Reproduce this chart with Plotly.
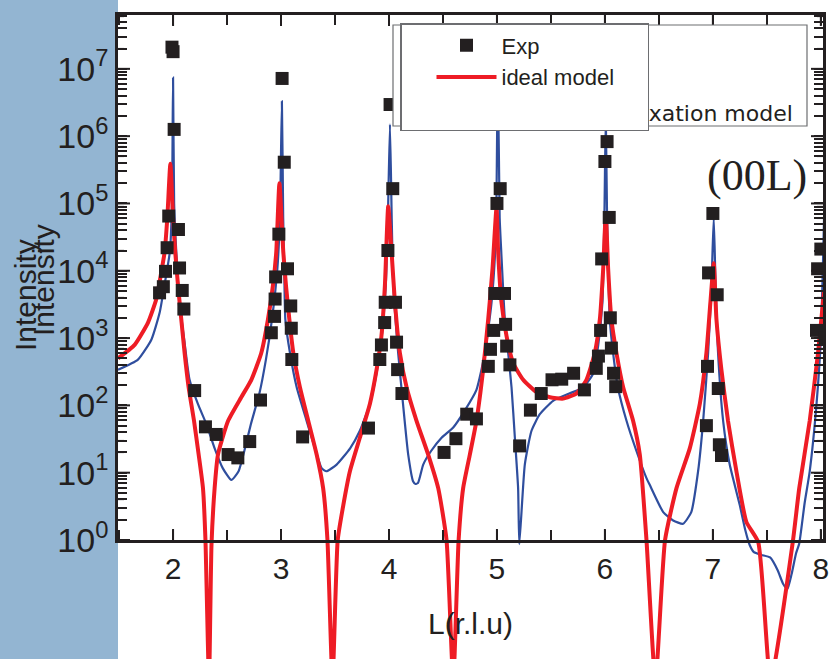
import plotly.graph_objects as go

# ---------------- data ----------------
# Experimental points: L (r.l.u.) and intensity
EXP_L = [1.875, 1.91, 1.93, 1.945, 1.96, 1.99, 2.00, 2.01, 2.05, 2.06, 2.085, 2.10,
         2.20, 2.30, 2.40, 2.51, 2.60, 2.71, 2.81,
         2.91, 2.94, 2.945, 2.95, 2.98, 3.01, 3.03, 3.06, 3.09, 3.095, 3.10, 3.20,
         3.81, 3.915, 3.93, 3.96, 3.965, 3.99, 4.01, 4.035, 4.06, 4.07, 4.08, 4.12,
         4.51, 4.62, 4.72, 4.81,
         4.92, 4.94, 4.97, 4.98, 5.00, 5.03, 5.07, 5.08, 5.09, 5.12,
         5.21, 5.31, 5.41, 5.51, 5.60, 5.71, 5.81,
         5.92, 5.94, 5.96, 5.97, 6.00, 6.02, 6.04, 6.05, 6.06, 6.08, 6.10,
         6.94, 6.95, 6.96, 7.00, 7.04, 7.05, 7.06, 7.08,
         7.96, 7.97, 8.00, 8.04]
EXP_I = [4700, 5800, 9800, 22000, 65000, 2.1e7, 1.8e7, 1.26e6, 41000, 11000, 5100, 2700,
         166, 48, 37, 18.6, 16.6, 29, 120,
         1200, 2100, 3800, 8100, 35000, 7.2e6, 4.1e5, 10700, 3000, 1400, 480, 34,
         46, 480, 790, 1700, 3400, 20000, 2.95e6, 1.66e5, 3400, 870, 340, 150,
         20, 32, 74, 63,
         380, 680, 1300, 4600, 1.0e5, 1.66e5, 4600, 1600, 760, 400,
         25, 85, 150, 240, 245, 300, 170,
         355, 540, 1300, 15000, 4.2e5, 8.3e5, 62000, 2000, 710, 300, 190,
         50, 380, 9300, 71000, 4400, 178, 26, 18,
         1300, 10700, 21000, 1000]

# Relaxation model (blue curve)
RELAX_L = [1.49, 1.675, 1.80, 1.876, 1.92, 1.97, 1.99, 2.00, 2.01, 2.03, 2.06, 2.107,
           2.153, 2.23, 2.31, 2.385, 2.46, 2.54, 2.607, 2.66, 2.72, 2.80, 2.86, 2.916,
           2.966, 2.99, 3.008, 3.02, 3.03, 3.04, 3.083, 3.145, 3.237, 3.314, 3.376,
           3.42, 3.515, 3.64, 3.73, 3.823, 3.885, 3.93, 3.97, 3.99, 4.009, 4.025,
           4.04, 4.085, 4.13, 4.178, 4.224, 4.245, 4.27, 4.317, 4.39, 4.487, 4.595,
           4.70, 4.81, 4.888, 4.95, 4.99, 5.008, 5.025, 5.04, 5.073, 5.104, 5.135,
           5.166, 5.196, 5.207, 5.258, 5.32, 5.397, 5.52, 5.675, 5.80, 5.89, 5.937,
           5.977, 5.995, 6.008, 6.02, 6.045, 6.076, 6.12, 6.20, 6.292, 6.385, 6.415,
           6.54, 6.632, 6.724, 6.80, 6.863, 6.91, 6.956, 6.987, 7.008, 7.025, 7.048,
           7.095, 7.156, 7.249, 7.30, 7.34, 7.38, 7.45, 7.53, 7.60, 7.65, 7.69, 7.73,
           7.77, 7.80, 7.85, 7.897, 7.96, 8.00, 8.03]
RELAX_I = [339, 479, 955, 2400, 6030, 19000, 1.0e5, 7.4e6, 1.0e5, 19000, 3390, 851,
           240, 105, 52, 23, 11.7, 7.8, 10.5, 21, 52, 151, 479, 1900,
           10700, 63000, 3.3e6, 63000, 10000, 1900, 600, 186, 59, 23, 11.7,
           10.5, 13.2, 23, 42, 105, 302, 955, 6030, 63000, 1.5e6, 63000,
           6030, 600, 105, 18.6, 7.4, 6.8, 7.1, 13.2, 21, 33, 47,
           83, 170, 600, 3390, 34000, 1.0e7, 63000, 19000, 1900, 600, 186,
           33, 5.9, 0.87, 13.2, 42, 74, 117, 151, 186, 295, 759,
           3390, 62000, 2.0e6, 63000, 1900, 600, 186, 59, 21, 8.3, 6.6,
           2.6, 1.95, 1.74, 2.6, 10.5, 59, 600, 6030, 62000, 6030, 600,
           59, 13.2, 3.3, 1.41, 0.85, 0.66, 0.60, 0.55, 0.355, 0.224, 0.186, 0.316,
           0.63, 0.89, 3.55, 10.5, 105, 1000, 63000]

# Ideal model (red curve)
IDEAL_L = [1.49, 1.644, 1.768, 1.845, 1.891, 1.922, 1.947, 1.975, 2.00, 2.02, 2.046,
           2.076, 2.107, 2.144, 2.194, 2.237, 2.277, 2.30, 2.333, 2.356, 2.385, 2.416,
           2.51, 2.632, 2.725, 2.817, 2.879, 2.925, 2.956, 2.985, 3.021, 3.046, 3.077,
           3.114, 3.175, 3.252, 3.33, 3.39, 3.43, 3.477, 3.525, 3.577, 3.638, 3.73,
           3.823, 3.885, 3.93, 3.962, 3.993, 4.024, 4.055, 4.101, 4.163, 4.255, 4.363,
           4.456, 4.533, 4.595, 4.645, 4.687, 4.749, 4.81, 4.872, 4.919, 4.959, 4.996,
           5.011, 5.042, 5.089, 5.15, 5.243, 5.366, 5.49, 5.613, 5.737, 5.829, 5.906,
           5.953, 5.984, 6.008, 6.03, 6.06, 6.107, 6.169, 6.261, 6.323, 6.385, 6.468,
           6.557, 6.663, 6.786, 6.879, 6.94, 6.977, 7.008, 7.033, 7.079, 7.14, 7.218,
           7.31, 7.42, 7.535, 7.74, 7.80, 7.897, 7.974, 8.03]
IDEAL_I = [501, 794, 1700, 3800, 9550, 19000, 62000, 3.9e5, 62000, 19000, 6030,
           1900, 600, 186, 59, 18.6, 5.9, 1.0, 0.0079, 0.85, 5.9, 18.6,
           59, 132, 240, 600, 1900, 6030, 19000, 2.0e5, 19000, 6030, 1900,
           600, 186, 59, 18.6, 5.9, 1.0, 0.0079, 1.0, 3.3, 10.5, 33,
           105, 339, 1070, 6030, 91000, 19000, 3390, 600, 186, 59, 18.6,
           5.9, 1.0, 0.0079, 1.0, 5.9, 18.6, 59, 339, 1900, 10700, 87000,
           19000, 3390, 1070, 427, 240, 158, 132, 126, 151, 240, 600,
           1900, 10700, 69000, 10700, 1900, 600, 186, 59, 18.6, 1.0, 0.0079,
           1.0, 5.9, 23, 105, 600, 3390, 12900, 1900, 339, 59, 10.5,
           1.86, 0.93, 0.0079, 0.93, 5.9, 59, 600, 5000]

X_TICKS = [2, 3, 4, 5, 6, 7, 8]
X_TICKTEXT = ["2", "3", "4", "5", "6", "7", "8"]
Y_TICKVALS = [1, 10, 100, 1e3, 1e4, 1e5, 1e6, 1e7]
Y_TICKTEXT = ["10<sup>0</sup>", "10<sup>1</sup>", "10<sup>2</sup>", "10<sup>3</sup>",
              "10<sup>4</sup>", "10<sup>5</sup>", "10<sup>6</sup>", "10<sup>7</sup>"]

# ---------------- styling ----------------
W, H = 829, 659
INK = "#231F20"
BLUE = "#2F4E9E"
RED = "#EE1C25"
PANEL = "#93B5D2"
SANS = "Liberation Sans, Arial, sans-serif"

def px_x(p):
    return p / W

def px_y(p):
    return (H - p) / H

X_RANGE = [1.49, 8.02]
XDOM = [px_x(118), px_x(823)]
YDOM_FRAME = [px_y(540), px_y(15)]
YDOM_FULL = [0, px_y(15)]
Y_TOP = 7.80
Y_BOTTOM_FULL = 0 - (H - 540) / ((540 - 15) / Y_TOP)

# tick positions: labelled major ticks plus unlabelled half-step / 2..9 ticks
x_tick_pos, x_tick_lab = [], []
for i, v in enumerate(X_TICKS):
    x_tick_pos += [v - 0.5, v]
    x_tick_lab += ["", X_TICKTEXT[i]]
y_tick_pos, y_tick_lab = [], []
for i, v in enumerate(Y_TICKVALS):
    y_tick_pos.append(v)
    y_tick_lab.append(Y_TICKTEXT[i])
    for m in range(2, 10):
        if v * m <= 10 ** Y_TOP:
            y_tick_pos.append(v * m)
            y_tick_lab.append("")

fig = go.Figure()

# model curves on a full-height (unframed) subplot so they run past the bottom axis
fig.add_trace(go.Scatter(x=RELAX_L, y=RELAX_I, xaxis="x", yaxis="y", mode="lines",
                         line=dict(color=BLUE, width=2.2, shape="spline", smoothing=0.5),
                         name="relaxation model", legend="legend"))
fig.add_trace(go.Scatter(x=IDEAL_L, y=IDEAL_I, xaxis="x", yaxis="y", mode="lines",
                         line=dict(color=RED, width=4, shape="spline", smoothing=0.5),
                         name="ideal model", legend="legend2", legendrank=2))
# experimental points on the framed subplot (drawn above the curves)
fig.add_trace(go.Scatter(x=EXP_L, y=EXP_I, xaxis="x2", yaxis="y2", mode="markers",
                         marker=dict(symbol="square", size=13, color=INK),
                         name="Exp", legend="legend2", legendrank=1, cliponaxis=True))
# blank third row of the front legend box (also sets the box width)
fig.add_trace(go.Scatter(x=[None], y=[None], xaxis="x2", yaxis="y2", mode="lines",
                         line=dict(color="rgba(0,0,0,0)"), name="\u00a0" * 23,
                         legend="legend2", legendrank=3, hoverinfo="skip"))

tickfont_x = dict(family=SANS, size=30, color=INK)
tickfont_y = dict(family=SANS, size=34, color=INK)

fig.update_layout(
    template="none",
    width=W, height=H,
    margin=dict(l=0, r=0, t=0, b=0, autoexpand=False),
    paper_bgcolor="white", plot_bgcolor="rgba(0,0,0,0)",
    xaxis=dict(domain=XDOM, range=X_RANGE, anchor="y", visible=False, automargin=False),
    yaxis=dict(domain=YDOM_FULL, type="log", range=[Y_BOTTOM_FULL, Y_TOP], anchor="x",
               visible=False, automargin=False),
    xaxis2=dict(domain=XDOM, range=X_RANGE, anchor="y2", automargin=False,
                tickmode="array", tickvals=x_tick_pos, ticktext=x_tick_lab,
                ticks="inside", ticklen=10, tickwidth=2, tickcolor=INK,
                showline=True, linewidth=2.5, linecolor=INK, mirror="ticks",
                ticklabeloverflow="allow",
                showgrid=False, zeroline=False, tickfont=tickfont_x),
    yaxis2=dict(domain=YDOM_FRAME, type="log", range=[0, Y_TOP], anchor="x2", automargin=False,
                tickmode="array", tickvals=y_tick_pos, ticktext=y_tick_lab,
                ticks="inside", ticklen=9, tickwidth=1.6, tickcolor=INK,
                showline=True, linewidth=2.5, linecolor=INK, mirror="ticks",
                showgrid=False, zeroline=False, tickfont=tickfont_y),
    legend=dict(x=px_x(798), xanchor="right", y=px_y(134), yanchor="bottom",
                bgcolor="rgba(0,0,0,0)", borderwidth=0,
                font=dict(family="DejaVu Sans, sans-serif", size=22, color=INK)),
    legend2=dict(x=px_x(400), xanchor="left", y=px_y(23), yanchor="top",
                 bgcolor="white", bordercolor="#6D6E71", borderwidth=1.5,
                 font=dict(family=SANS, size=22, color=INK),
                 indentation=30, itemwidth=60),
    showlegend=True,
)

# tick marks on all four sides of the frame, placed through the axes' own scales
for v, lab in zip(x_tick_pos, x_tick_lab):
    ln, wd = (11, 2) if lab else (7, 1.5)
    for anchor_px, sgn in ((540, 1), (15, -1)):
        fig.add_shape(type="line", xref="x2", x0=v, x1=v,
                      yref="paper", ysizemode="pixel", yanchor=px_y(anchor_px),
                      y0=0, y1=sgn * ln, line=dict(color=INK, width=wd), layer="above")
for v, lab in zip(y_tick_pos, y_tick_lab):
    ln, wd = (12, 2) if lab else (6, 1.3)
    for anchor_px, sgn in ((118, 1), (823, -1)):
        fig.add_shape(type="line", yref="y2", y0=v, y1=v,
                      xref="paper", xsizemode="pixel", xanchor=px_x(anchor_px),
                      x0=0, x1=sgn * ln, line=dict(color=INK, width=wd), layer="above")

# blue side panel and the back legend box
fig.add_shape(type="rect", xref="paper", yref="paper", x0=0, x1=px_x(118), y0=0, y1=1,
              fillcolor=PANEL, line=dict(width=0), layer="below")
fig.add_shape(type="rect", xref="paper", yref="paper", x0=px_x(393), x1=px_x(807),
              y0=px_y(126), y1=px_y(25), fillcolor="white",
              line=dict(color="#6D6E71", width=1.2), layer="above")

ann_font = dict(family=SANS, size=30, color=INK)
fig.add_annotation(text="Intensity", xref="paper", yref="paper", x=px_x(26), y=px_y(295),
                   textangle=-90, showarrow=False, font=ann_font, xanchor="center", yanchor="middle")
fig.add_annotation(text="Intensity", xref="paper", yref="paper", x=px_x(43), y=px_y(280),
                   textangle=-90, showarrow=False, font=ann_font, xanchor="center", yanchor="middle")
fig.add_annotation(text="L(r.l.u)", xref="paper", yref="paper", x=px_x(470), y=px_y(623),
                   showarrow=False, font=ann_font, xanchor="center", yanchor="middle")
fig.add_annotation(text="(00L)", xref="paper", yref="paper", x=px_x(757), y=px_y(175),
                   showarrow=False, font=dict(family="Liberation Serif, Times New Roman, serif",
                                              size=44, color=INK),
                   xanchor="center", yanchor="middle")

fig.write_html("out.html")
